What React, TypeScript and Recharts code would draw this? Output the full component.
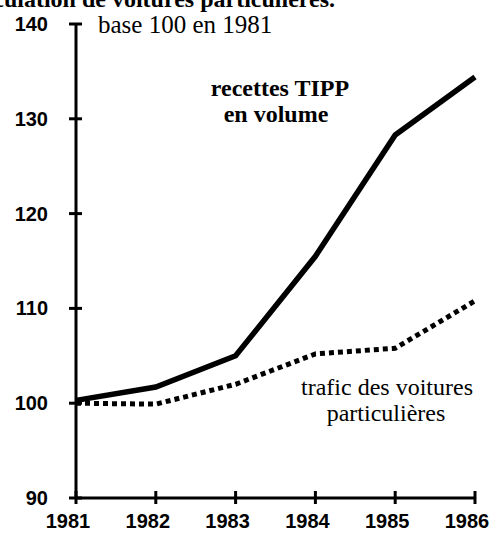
import React from "react";
import { Line, LineChart, XAxis, YAxis } from "recharts";

const years = [1981, 1982, 1983, 1984, 1985, 1986];
const recettesTipp = [100.3, 101.7, 105.0, 115.5, 128.3, 134.4];
const traficVoitures = [100.0, 99.9, 102.0, 105.2, 105.8, 110.8];
const yTicks = [90, 100, 110, 120, 130, 140];

const data = years.map((year, i) => ({
  year,
  tipp: recettesTipp[i],
  trafic: traficVoitures[i],
}));

const serif = "'Liberation Serif', 'Times New Roman', serif";
const sans = "'Liberation Sans', Arial, sans-serif";

function YTick({ x, y, payload }: any) {
  return (
    <g>
      <line x1={x - 7} x2={x + 6} y1={y} y2={y} stroke="#000" strokeWidth={3} />
      <text x={x - 28} y={y} dy={7} textAnchor="end" fontFamily={sans} fontWeight="bold" fontSize={20} fill="#000">
        {payload.value}
      </text>
    </g>
  );
}

function XTick({ x, y, payload }: any) {
  return (
    <g>
      <line x1={x} x2={x} y1={y - 7} y2={y + 6} stroke="#000" strokeWidth={3} />
      <text x={x - 8} y={y + 30} textAnchor="middle" fontFamily={sans} fontWeight="bold" fontSize={20} fill="#000">
        {payload.value}
      </text>
    </g>
  );
}

export default function App() {
  return (
    <div style={{ position: "absolute", left: 0, top: 0, background: "#fff" }}>
      <LineChart
        width={496}
        height={543}
        data={data}
        margin={{ top: 24, right: 21, bottom: 0, left: 0 }}
      >
        <XAxis
          dataKey="year"
          type="number"
          domain={[1981, 1986]}
          ticks={years}
          height={45}
          axisLine={{ stroke: "#000", strokeWidth: 3 }}
          tickLine={false}
          tickSize={0}
          tickMargin={0}
          tick={<XTick />}
          interval={0}
        />
        <YAxis
          type="number"
          domain={[90, 140]}
          ticks={yTicks}
          width={76}
          axisLine={{ stroke: "#000", strokeWidth: 3 }}
          tickLine={false}
          tickSize={0}
          tickMargin={0}
          tick={<YTick />}
          interval={0}
        />
        <Line
          dataKey="tipp"
          type="linear"
          stroke="#000"
          strokeWidth={5.5}
          dot={false}
          isAnimationActive={false}
        />
        <Line
          dataKey="trafic"
          type="linear"
          stroke="#000"
          strokeWidth={5}
          strokeDasharray="5 4"
          dot={false}
          isAnimationActive={false}
        />
        <text x={335} y={7} textAnchor="end" fontFamily={serif} fontWeight="bold" fontSize={24} fill="#000">
          et circulation de voitures particulières.
        </text>
        <text x={98} y={33} fontFamily={serif} fontSize={25} fill="#000">
          base 100 en 1981
        </text>
        <text x={280} y={96} textAnchor="middle" fontFamily={serif} fontWeight="bold" fontSize={24} fill="#000">
          recettes TIPP
        </text>
        <text x={276} y={122} textAnchor="middle" fontFamily={serif} fontWeight="bold" fontSize={24} fill="#000">
          en volume
        </text>
        <text x={387} y={395} textAnchor="middle" fontFamily={serif} fontSize={24} fill="#000">
          trafic des voitures
        </text>
        <text x={386} y={421} textAnchor="middle" fontFamily={serif} fontSize={24} fill="#000">
          particulières
        </text>
      </LineChart>
    </div>
  );
}
